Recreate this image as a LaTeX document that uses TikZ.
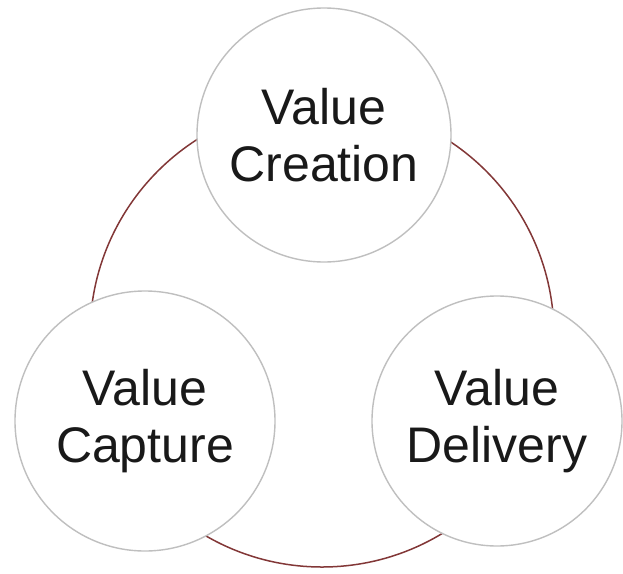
\documentclass[tikz,border=0pt]{standalone}
\usepackage{fontspec}
\setmainfont{Liberation Sans}
\usepackage{tikz}
\usetikzlibrary{positioning}
\definecolor{ringred}{RGB}{130,55,55}
\tikzset{
    value/.style={circle, draw=gray!50, fill=white, line width=1.4pt, minimum size=254pt, inner sep=0pt, align=center, font=\fontsize{50}{57}\selectfont, text=black!90},
    ring/.style={circle, draw=ringred, line width=1.5pt, minimum size=464pt, inner sep=0pt},
}

\begin{document}
\begin{tikzpicture}[x=1pt, y=-1pt]
        \useasboundingbox (0,0) rectangle (623,573);
        \node [ring] (ring) at (322,335) {};
        \node [value] (creation) at (324,135) {Value\\Creation};
        \node [value, minimum size=260pt] (capture) at (145,421) {Value\\Capture};
        \node [value, minimum size=250pt] (delivery) at (497,421) {Value\\Delivery};
    \end{tikzpicture}
\end{document}
